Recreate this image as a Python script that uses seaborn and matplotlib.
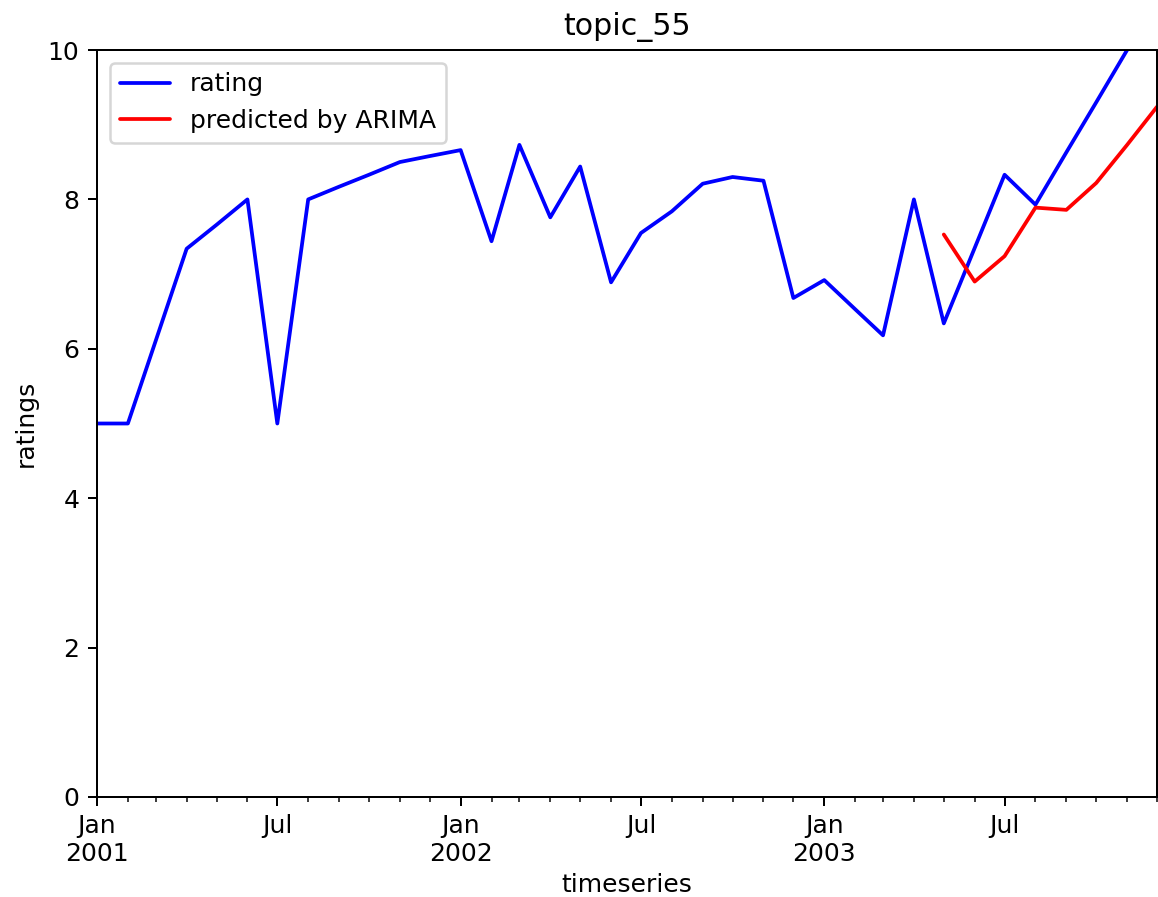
import numpy as np
import pandas as pd
import matplotlib
matplotlib.use("Agg")
import matplotlib.pyplot as plt
import matplotlib.dates as mdates
import seaborn as sns

# Monthly average rating for topic_55
rating_months = pd.date_range("2001-01-01", "2003-11-01", freq="MS")
rating_values = [
    5.00, 5.00, 6.11, 7.34, 7.66, 8.00, 5.00, 8.00, 8.17, 8.33, 8.50, 8.58,
    8.66, 7.44, 8.73, 7.76, 8.44, 6.89, 7.55, 7.84, 8.21, 8.30, 8.25, 6.68,
    6.92, 6.53, 6.18, 8.00, 6.34, 7.35, 8.33, 7.93, 8.63, 9.30, 10.00,
]

# ARIMA forecast
pred_months = pd.date_range("2003-05-01", "2003-12-01", freq="MS")
pred_values = [7.53, 6.90, 7.24, 7.89, 7.86, 8.22, 8.73, 9.24]

rating_df = pd.DataFrame({"month": rating_months, "value": rating_values})
pred_df = pd.DataFrame({"month": pred_months, "value": pred_values})

sns.set_style("ticks")
plt.rcParams["font.family"] = ["DejaVu Sans"]
plt.rcParams.update({
    "text.color": "black",
    "axes.labelcolor": "black",
    "xtick.color": "black",
    "ytick.color": "black",
    "axes.edgecolor": "black",
    "xtick.major.size": 3.5,
    "ytick.major.size": 3.5,
    "xtick.minor.size": 2,
})

DPI = 180
fig = plt.figure(figsize=(1158 / DPI, 897 / DPI), dpi=DPI)
ax = fig.add_axes([97 / 1158, 1 - 797 / 897, 1060 / 1158, 747 / 897])

sns.lineplot(data=rating_df, x="month", y="value", color="blue",
             linewidth=1.5, label="rating", ax=ax)
sns.lineplot(data=pred_df, x="month", y="value", color="red",
             linewidth=1.5, label="predicted by ARIMA", ax=ax)

ax.set_xlim(pd.Timestamp("2001-01-01"), pd.Timestamp("2003-12-01"))
ax.set_ylim(0, 10)
ax.set_yticks([0, 2, 4, 6, 8, 10])

ax.xaxis.set_major_locator(mdates.MonthLocator(bymonth=[1, 7]))
ax.xaxis.set_minor_locator(mdates.MonthLocator())


def month_label(x, pos=None):
    d = mdates.num2date(x)
    if d.month == 1:
        return f"Jan\n{d.year}"
    return d.strftime("%b")


ax.xaxis.set_major_formatter(plt.FuncFormatter(month_label))
for lbl in ax.get_xticklabels():
    lbl.set_horizontalalignment("center")

for side in ["top", "right", "left", "bottom"]:
    ax.spines[side].set_visible(True)
    ax.spines[side].set_color("black")

ax.set_title("topic_55")
ax.set_xlabel("timeseries", labelpad=2.5)
ax.set_ylabel("ratings")
ax.legend(loc="upper left", frameon=True)

fig.savefig("out.png", dpi=DPI)
